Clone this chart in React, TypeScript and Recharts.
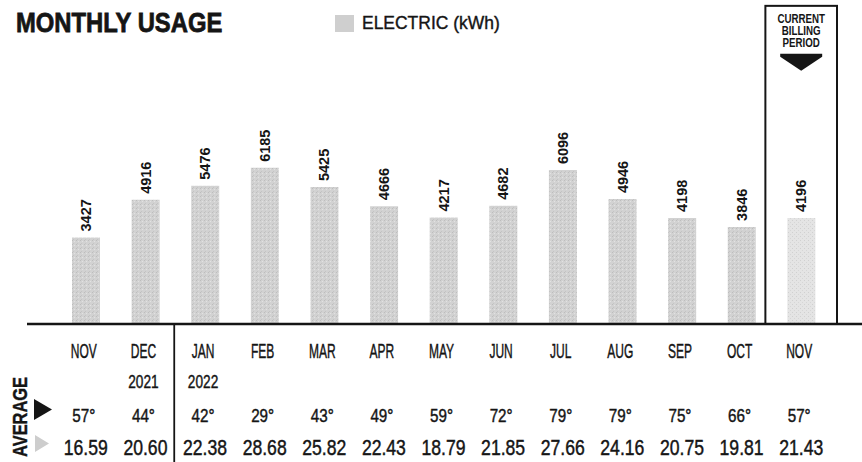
import React from "react";
import { BarChart, Bar, XAxis, YAxis, Cell, LabelList, ReferenceArea } from "recharts";

// monthly electric usage, Nov 2021 - Nov 2022
const months = ["NOV", "DEC", "JAN", "FEB", "MAR", "APR", "MAY", "JUN", "JUL", "AUG", "SEP", "OCT", "NOV"];
const years = ["", "2021", "2022", "", "", "", "", "", "", "", "", "", ""];
const usageKwh = [3427, 4916, 5476, 6185, 5425, 4666, 4217, 4682, 6096, 4946, 4198, 3846, 4196];
const avgTempF = [57, 44, 42, 29, 43, 49, 59, 72, 79, 79, 75, 66, 57];
const avgDailyCost = [16.59, 20.6, 22.38, 28.68, 25.82, 22.43, 18.79, 21.85, 27.66, 24.16, 20.75, 19.81, 21.43];

const data = months.map((m, i) => ({
  key: `${m}-${i}`,
  month: m,
  year: years[i],
  kwh: usageKwh[i],
  temp: avgTempF[i],
  cost: avgDailyCost[i],
}));
const CURRENT = data.length - 1;

const W = 862;
const H = 462;
const LEFT = 27;
const TOP = 122;
const AXIS_H = 138;
const PAD_L = 29;
const PAD_R = 31;
const HALF_BAND = (W - LEFT - PAD_L - PAD_R) / data.length / 2;
const Y_MAX = 8000;
const BOX_TOP = 12600;
const FONT = "'Liberation Sans', Arial, sans-serif";
const INK = "#151515";

// squeezed text, the bill uses a condensed face
function Sq({ x, y, size, sx, weight = "normal", anchor = "middle", fill = INK, thick = 0.45, children }: any) {
  return (
    <text
      transform={`translate(${x},${y}) scale(${sx},1)`}
      textAnchor={anchor}
      fontSize={size}
      fontWeight={weight}
      fontFamily={FONT}
      fill={fill}
      stroke={fill}
      strokeWidth={thick}
    >
      {children}
    </text>
  );
}

function MonthTick(props: any) {
  const { x, y, index } = props;
  const d = data[index];
  const tx = x - 2;
  return (
    <g>
      {d.year === "2022" && (
        <line x1={x - HALF_BAND - 1} x2={x - HALF_BAND - 1} y1={y} y2={H} stroke={INK} strokeWidth={1.8} />
      )}
      <Sq x={tx} y={y + 34} size={20} sx={0.6}>{d.month}</Sq>
      {d.year && <Sq x={tx} y={y + 64} size={19} sx={0.72}>{d.year}</Sq>}
      <Sq x={tx} y={y + 98} size={19} sx={0.8}>{`${d.temp}°`}</Sq>
      <Sq x={x} y={y + 131} size={22} sx={0.8}>{d.cost.toFixed(2)}</Sq>
    </g>
  );
}

function UsageLabel(props: any) {
  const { x, y, width, value } = props;
  const cx = x + width / 2 + 5;
  return (
    <text
      transform={`translate(${cx},${y - 6}) rotate(-90)`}
      textAnchor="start"
      fontSize={14.5}
      fontWeight="bold"
      fontFamily={FONT}
      fill={INK}
    >
      {value}
    </text>
  );
}

function CurrentBox(props: any) {
  const { x, y, width, height } = props;
  const left = x - 6;
  const right = x + width + 6;
  const cx = (left + right) / 2;
  const top = y;
  return (
    <g>
      <rect x={left} y={top} width={right - left} height={height} fill="none" stroke={INK} strokeWidth={2} />
      <Sq x={cx} y={top + 17} size={12.5} sx={0.78} weight="bold" thick={0}>CURRENT</Sq>
      <Sq x={cx} y={top + 29} size={12.5} sx={0.78} weight="bold" thick={0}>BILLING</Sq>
      <Sq x={cx} y={top + 41} size={12.5} sx={0.78} weight="bold" thick={0}>PERIOD</Sq>
      <polygon
        points={`${cx - 21},${top + 48} ${cx + 21},${top + 48} ${cx + 21},${top + 51} ${cx},${top + 65} ${cx - 21},${top + 51}`}
        fill={INK}
      />
    </g>
  );
}

export default function App() {
  return (
    <div style={{ position: "absolute", left: 0, top: 0, width: W, height: H, background: "#fff" }}>
      <div
        style={{
          position: "absolute",
          left: 16,
          top: 9,
          fontFamily: FONT,
          fontWeight: "bold",
          fontSize: 28,
          lineHeight: "28px",
          color: INK,
          WebkitTextStroke: "0.8px #151515",
          transform: "scaleX(0.85)",
          transformOrigin: "left top",
          whiteSpace: "nowrap",
        }}
      >
        MONTHLY USAGE
      </div>
      <div style={{ position: "absolute", left: 335, top: 13, display: "flex", alignItems: "center" }}>
        <div style={{ width: 19, height: 17, background: "#cfcfcf" }} />
        <span
          style={{
            marginLeft: 8,
            fontFamily: FONT,
            fontSize: 18,
            color: INK,
            whiteSpace: "nowrap",
            WebkitTextStroke: "0.4px #151515",
            display: "inline-block",
            transform: "scaleX(0.97)",
            transformOrigin: "left center",
          }}
        >
          ELECTRIC (kWh)
        </span>
      </div>
      <BarChart width={W} height={H} data={data} margin={{ top: TOP, right: 0, bottom: 0, left: LEFT }}>
        <defs>
          <pattern id="stipple" width="4" height="4" patternUnits="userSpaceOnUse">
            <rect width="4" height="4" fill="#d2d2d2" />
            <rect x="0" y="0" width="1" height="1" fill="#bdbdbd" />
            <rect x="2" y="1" width="1" height="1" fill="#e2e2e2" />
            <rect x="1" y="3" width="1" height="1" fill="#c4c4c4" />
          </pattern>
          <pattern id="stippleLight" width="4" height="4" patternUnits="userSpaceOnUse">
            <rect width="4" height="4" fill="#e4e4e4" />
            <rect x="0" y="0" width="1" height="1" fill="#d0d0d0" />
            <rect x="2" y="2" width="1" height="1" fill="#d6d6d6" />
          </pattern>
        </defs>
        <XAxis
          dataKey="key"
          height={AXIS_H}
          padding={{ left: PAD_L, right: PAD_R }}
          axisLine={{ stroke: INK, strokeWidth: 2.5 }}
          tickLine={false}
          tickSize={0}
          tickMargin={0}
          interval={0}
          tick={<MonthTick />}
        />
        <YAxis hide domain={[0, Y_MAX]} />
        <ReferenceArea
          x1={data[CURRENT].key}
          x2={data[CURRENT].key}
          y1={0}
          y2={BOX_TOP}
          ifOverflow="visible"
          shape={<CurrentBox />}
        />
        <Bar dataKey="kwh" barSize={28} isAnimationActive={false}>
          {data.map((d, i) => (
            <Cell key={d.key} fill={i === CURRENT ? "url(#stippleLight)" : "url(#stipple)"} />
          ))}
          <LabelList dataKey="kwh" content={<UsageLabel />} />
        </Bar>
      </BarChart>
      <svg width={60} height={H} style={{ position: "absolute", left: 0, top: 0 }}>
        <text
          transform="translate(27,417) rotate(-90) scale(0.82,1)"
          textAnchor="middle"
          fontSize={20}
          fontWeight="bold"
          fontFamily={FONT}
          fill={INK}
          stroke={INK}
          strokeWidth={0.4}
        >
          AVERAGE
        </text>
        <polygon points="34,399 34,420 52,409.5" fill={INK} />
        <polygon points="35,435 35,452 49,443.5" fill="#cdcdcd" />
      </svg>
    </div>
  );
}
